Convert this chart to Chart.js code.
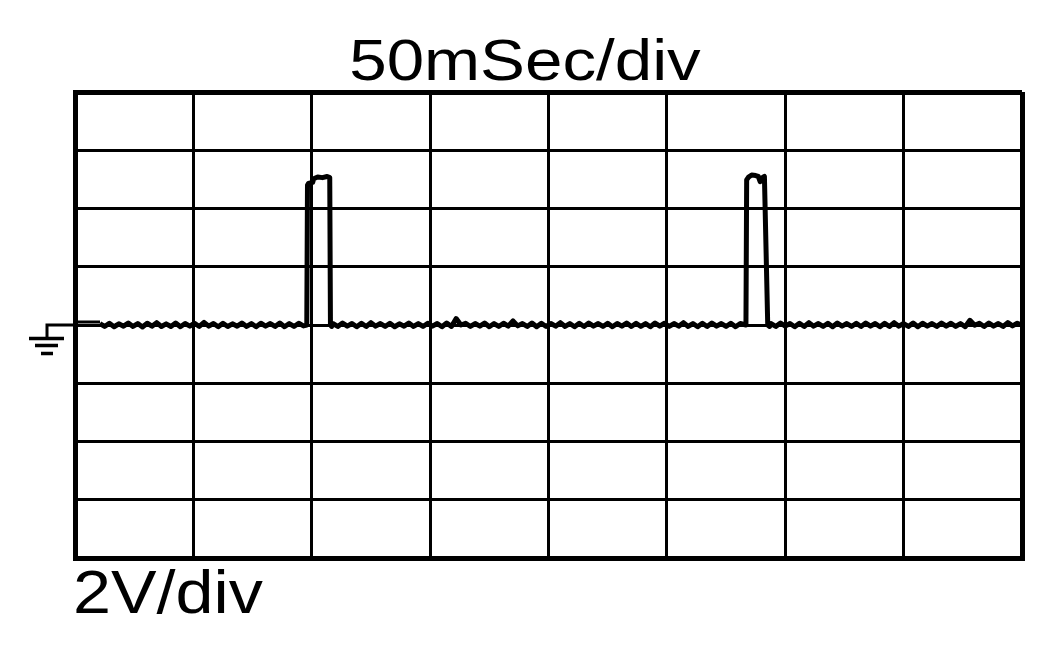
<!DOCTYPE html>
<html>
<head>
<meta charset="utf-8">
<title>50mSec/div</title>
<script src="https://cdn.jsdelivr.net/npm/chart.js@4.4.1/dist/chart.umd.min.js"></script>
<style>
  html, body { margin: 0; padding: 0; background: #fff; }
  canvas { display: block; }
</style>
</head>
<body>
<canvas id="scopeChart" width="1052" height="650"></canvas>
<script>
// screen settings
const timeRangeMs = [0, 400];      // 8 div x 50 ms
const voltRange = [-8, 8];         // 8 div x 2 V, ground in the middle
const timeStepMs = 50;
const voltStep = 2;
const titleText = "50mSec/div";
const voltText = "2V/div";

// trace sampled every 2 ms on the flat parts
const sampleMs = 2;
const base1Start = 10.5;
const base1Volts = [
    0.05, -0.05, 0.06, -0.06, 0.04, -0.04, 0.07, -0.05, 0.05, -0.07,
    0.06, -0.04, 0.08, -0.05, 0.04, -0.05, 0.07, -0.06, 0.05, -0.04,
    0.06, -0.05, 0.09, -0.04, 0.05, -0.06, 0.06, -0.05, 0.04, -0.04,
    0.07, -0.05, 0.05, -0.06, 0.06, -0.04, 0.05, -0.05, 0.07, -0.06,
    0.05, -0.05, 0.06, -0.03
];
const pulse1Times = [97.9, 98.2, 98.6, 100.4, 100.8, 102.5, 104.5, 106.5, 107.6, 107.9, 108.4];
const pulse1Volts = [0.00, 4.80, 4.86, 4.90, 5.02, 5.08, 5.06, 5.10, 5.06, 0.00, -0.05];

const base2Start = 109.0;
const base2Volts = [
    0.05, -0.05, 0.07, -0.04, 0.05, -0.06, 0.06, -0.05, 0.08, -0.04,
    0.05, -0.05, 0.06, -0.06, 0.04, -0.04, 0.07, -0.05, 0.05, -0.05,
    0.06, -0.04, 0.05, -0.06, 0.07, -0.05, 0.22, 0.00, 0.06, -0.05,
    0.05, -0.04, 0.07, -0.06, 0.05, -0.05, 0.06, -0.04, 0.14, -0.03,
    0.05, -0.05, 0.07, -0.06, 0.06, -0.05, 0.05, -0.04, 0.08, -0.05,
    0.05, -0.06, 0.06, -0.05, 0.07, -0.04, 0.05, -0.05, 0.06, -0.06,
    0.05, -0.04, 0.07, -0.05, 0.06, -0.05, 0.05, -0.06, 0.07, -0.04,
    0.06, -0.05, 0.05, -0.04, 0.08, -0.05, 0.05, -0.06, 0.06, -0.05,
    0.07, -0.04, 0.05, -0.05, 0.06, -0.06, 0.05
];
const pulse2Times = [283.4, 283.7, 284.5, 285.8, 287.5, 288.6, 289.4, 290.2, 291.2, 292.6, 293.4];
const pulse2Volts = [0.00, 4.98, 5.08, 5.15, 5.13, 5.10, 4.92, 5.05, 5.10, 0.00, -0.05];

const base3Start = 294.0;
const base3Volts = [
    0.05, -0.05, 0.07, -0.04, 0.05, -0.06, 0.06, -0.05, 0.08, -0.04,
    0.05, -0.05, 0.06, -0.06, 0.07, -0.04, 0.05, -0.05, 0.06, -0.05,
    0.07, -0.04, 0.05, -0.06, 0.06, -0.05, 0.08, -0.04, 0.05, -0.05,
    0.07, -0.06, 0.06, -0.04, 0.05, -0.05, 0.07, -0.04, 0.06, -0.05,
    0.05, -0.06, 0.16, -0.01, 0.06, -0.05, 0.07, -0.04, 0.05, -0.05,
    0.08, -0.03, 0.06, -0.01
];

function sampled(start, volts) {
    return volts.map((v, i) => ({ x: start + i * sampleMs, y: v }));
}
function paired(times, volts) {
    return times.map((t, i) => ({ x: t, y: volts[i] }));
}

const tracePoints = [].concat(
    sampled(base1Start, base1Volts),
    paired(pulse1Times, pulse1Volts),
    sampled(base2Start, base2Volts),
    paired(pulse2Times, pulse2Volts),
    sampled(base3Start, base3Volts)
);

const edgeWidth = 5;
const gridWidth = 3;

// labels and ground marker
const scopeDecor = {
    id: "scopeDecor",
    afterDraw(chart) {
        const c = chart.ctx;
        const area = chart.chartArea;
        const gy = chart.scales.y.getPixelForValue(0);
        c.save();
        c.fillStyle = "#000";
        c.strokeStyle = "#000";

        // ground symbol on the left edge
        c.lineWidth = 3;
        c.beginPath();
        c.moveTo(area.left, gy);
        c.lineTo(47, gy);
        c.lineTo(47, gy + 13);
        c.moveTo(area.left + 2, gy - 3);
        c.lineTo(100, gy - 3);
        c.stroke();
        c.lineWidth = 3.5;
        c.beginPath();
        c.moveTo(29, gy + 13.5); c.lineTo(64, gy + 13.5);
        c.moveTo(35, gy + 20.5); c.lineTo(58, gy + 20.5);
        c.moveTo(41, gy + 28.5); c.lineTo(53, gy + 28.5);
        c.stroke();

        // texts, slightly stretched like the original print
        c.font = "58px 'Liberation Sans', Arial, sans-serif";
        c.textBaseline = "alphabetic";
        c.textAlign = "center";
        c.save();
        c.translate(525, 80);
        c.scale(1.16, 1);
        c.fillText(titleText, 0, 0);
        c.restore();

        c.font = "61px 'Liberation Sans', Arial, sans-serif";
        c.textAlign = "left";
        c.save();
        c.translate(73, 613);
        c.scale(1.12, 1);
        c.fillText(voltText, 0, 0);
        c.restore();

        c.restore();
    }
};

const ctx = document.getElementById("scopeChart").getContext("2d");

new Chart(ctx, {
    type: "line",
    data: {
        datasets: [
            {
                label: "trace",
                data: tracePoints,
                borderColor: "#000",
                borderWidth: 5,
                pointRadius: 0,
                tension: 0,
                fill: false,
                borderJoinStyle: "round",
            },
        ],
    },
    options: {
        responsive: false,
        animation: false,
        events: [],
        plugins: {
            legend: { display: false },
            tooltip: { enabled: false },
            title: { display: false },
        },
        layout: {
            padding: { left: 75, right: 30, top: 92, bottom: 92 },
        },
        scales: {
            x: {
                type: "linear",
                min: timeRangeMs[0],
                max: timeRangeMs[1],
                ticks: { display: false, stepSize: timeStepMs },
                grid: {
                    color: "#000",
                    lineWidth: (c) => (c.tick && (c.tick.value === timeRangeMs[0] || c.tick.value === timeRangeMs[1]) ? edgeWidth : gridWidth),
                    drawTicks: false,
                },
                border: { display: true, color: "#000", width: edgeWidth },
            },
            y: {
                type: "linear",
                min: voltRange[0],
                max: voltRange[1],
                ticks: { display: false, stepSize: voltStep },
                grid: {
                    color: "#000",
                    lineWidth: (c) => (c.tick && (c.tick.value === voltRange[0] || c.tick.value === voltRange[1]) ? edgeWidth : gridWidth),
                    drawTicks: false,
                },
                border: { display: true, color: "#000", width: edgeWidth },
            },
        },
    },
    plugins: [scopeDecor],
});
</script>
</body>
</html>
